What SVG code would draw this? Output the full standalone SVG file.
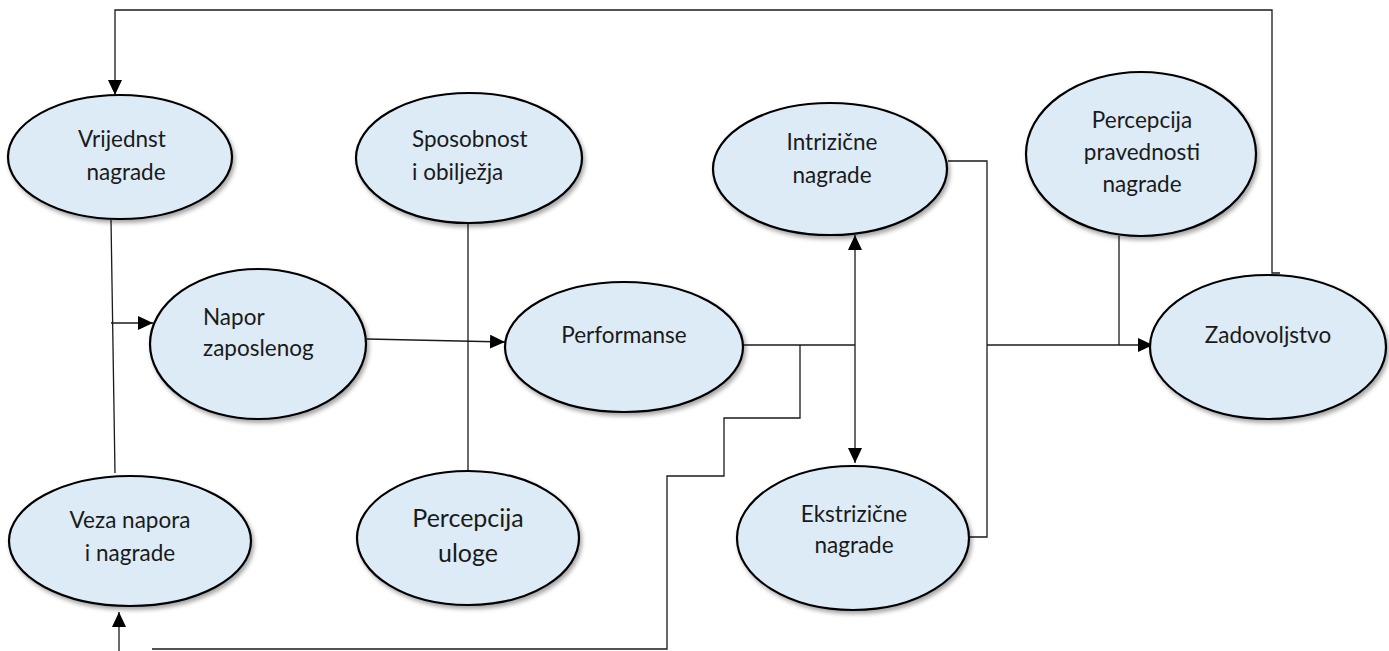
<svg xmlns="http://www.w3.org/2000/svg" width="1389" height="651" viewBox="0 0 1389 651">
<style>
.node ellipse{fill:#DDEBF7;stroke:#000;stroke-width:2.2;filter:url(#sh)}
.node text{font-family:Lato,"Liberation Sans",sans-serif;font-size:22.5px;fill:#1a1a1a}
.c{text-anchor:middle}
.big{font-size:25px!important}
#connectors path{fill:none;stroke:#1a1a1a;stroke-width:1.3}
</style>
<defs>
<filter id="sh" x="-10%" y="-10%" width="125%" height="130%">
<feDropShadow dx="2" dy="3" stdDeviation="2" flood-color="#000" flood-opacity="0.35"/>
</filter>
<marker id="ar" viewBox="0 0 15 14" refX="15" refY="7" markerWidth="15" markerHeight="14" markerUnits="userSpaceOnUse" orient="auto-start-reverse">
<path d="M0,0 L15,7 L0,14 Z" fill="#000"/>
</marker>
</defs>
<g id="connectors">
<path d="M1280,273 H1272 V10 H115 V95" marker-end="url(#ar)"/>
<path d="M111,220 L115,473"/>
<path d="M111,323 H153" marker-end="url(#ar)"/>
<path d="M367,339 L505,342" marker-end="url(#ar)"/>
<path d="M468,223 V471"/>
<path d="M743,345 H855"/>
<path d="M855,235 V463" marker-start="url(#ar)" marker-end="url(#ar)"/>
<path d="M800,345 V418 H724 V476 H667 V649 H152"/>
<path d="M119,651 V612" marker-end="url(#ar)"/>
<path d="M948,161 H987 V537 H969"/>
<path d="M987,345 H1153" marker-end="url(#ar)"/>
<path d="M1119,236 V345"/>
</g>
<g id="vrijednost" class="node"><ellipse cx="120" cy="157" rx="112" ry="62"/><text class="c" x="122" y="147">Vrijednst</text><text class="c" x="126" y="180">nagrade</text></g>
<g id="sposobnost" class="node"><ellipse cx="469" cy="158" rx="113" ry="65"/><text x="412" y="147">Sposobnost</text><text x="412" y="180">i obilježja</text></g>
<g id="intrizicne" class="node"><ellipse cx="830" cy="169" rx="117" ry="66"/><text class="c" x="832" y="150">Intrizične</text><text class="c" x="832" y="183">nagrade</text></g>
<g id="pravednost" class="node"><ellipse cx="1141" cy="154" rx="115" ry="82"/><text class="c" x="1142" y="128">Percepcija</text><text class="c" x="1142" y="160">pravednosti</text><text class="c" x="1142" y="192">nagrade</text></g>
<g id="napor" class="node"><ellipse cx="258" cy="344" rx="108" ry="75"/><text x="203" y="325">Napor</text><text x="203" y="356">zaposlenog</text></g>
<g id="performanse" class="node"><ellipse cx="624" cy="347" rx="119" ry="65"/><text class="c" x="624" y="343">Performanse</text></g>
<g id="zadovoljstvo" class="node"><ellipse cx="1268" cy="347" rx="118" ry="72"/><text class="c" x="1268" y="343">Zadovoljstvo</text></g>
<g id="veza" class="node"><ellipse cx="130" cy="541" rx="121" ry="65"/><text class="c" x="130" y="528">Veza napora</text><text class="c" x="130" y="561">i nagrade</text></g>
<g id="uloga" class="node"><ellipse cx="468" cy="538" rx="111" ry="67"/><text class="c big" x="468" y="527">Percepcija</text><text class="c big" x="468" y="562">uloge</text></g>
<g id="ekstrizicne" class="node"><ellipse cx="853" cy="538" rx="116" ry="72"/><text class="c" x="854" y="522">Ekstrizične</text><text class="c" x="854" y="553">nagrade</text></g>
</svg>
